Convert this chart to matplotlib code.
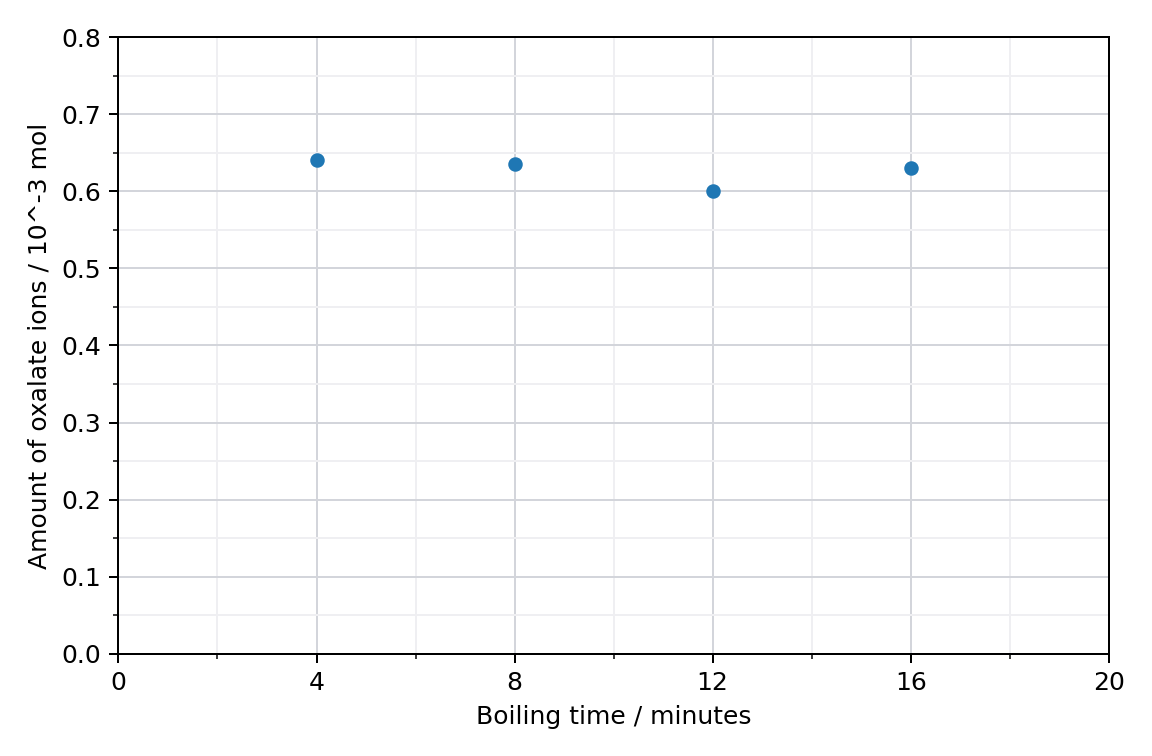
import matplotlib.pyplot as plt
from matplotlib.ticker import MultipleLocator

# boiling time (min) vs amount of oxalate ions (10^-3 mol)
boiling_time = [4, 8, 12, 16]
oxalate_amount = [0.64, 0.635, 0.60, 0.63]

fig, ax = plt.subplots(figsize=(6.4, 4.2), dpi=180)
fig.subplots_adjust(left=0.1028, right=0.9625, top=0.951, bottom=0.135)

ax.plot(boiling_time, oxalate_amount, "o", color="#1f77b4", markersize=4.8, zorder=3)

ax.set_xlim(0, 20)
ax.set_ylim(0, 0.8)
ax.xaxis.set_major_locator(MultipleLocator(4))
ax.xaxis.set_minor_locator(MultipleLocator(2))
ax.yaxis.set_major_locator(MultipleLocator(0.1))
ax.yaxis.set_minor_locator(MultipleLocator(0.05))

ax.grid(which="major", color="#d3d5db", linewidth=0.8)
ax.grid(which="minor", color="#efeff2", linewidth=0.8)
ax.set_axisbelow(True)

ax.set_xlabel("Boiling time / minutes")
ax.set_ylabel("Amount of oxalate ions / 10^-3 mol")

plt.savefig("out.png", dpi=180)
